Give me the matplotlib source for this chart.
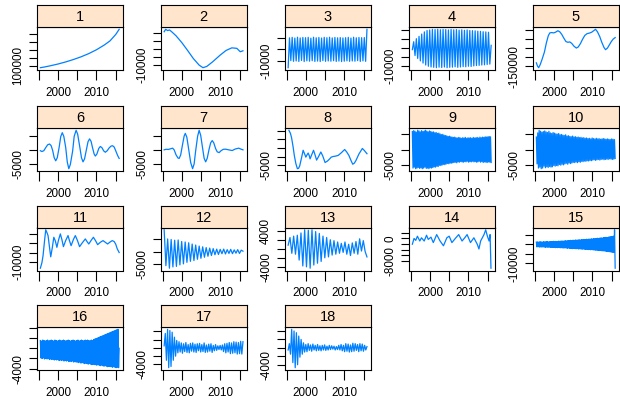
import numpy as np
import matplotlib.pyplot as plt

plt.rcParams['font.family'] = ['Liberation Sans', 'DejaVu Sans']

# monthly components share one time span
t_start, t_end = 1995.4, 2015.9

# --- smooth components: (year, value) readings ---
yr1 = [1995.4, 1996.5, 1998, 2000, 2002, 2004, 2006, 2008, 2010, 2012, 2013.5, 2015, 2015.9]
s1 = [76000, 85000, 100000, 122000, 148000, 178000, 212000, 252000, 300000, 358000, 410000, 490000, 555000]

yr2 = [1995.4, 1995.8, 1996.3, 1996.8, 1997.5, 1998.5, 2000, 2001.5, 2003, 2004.5, 2005.5,
       2006.5, 2008, 2010, 2011.5, 2013, 2014.3, 2015.2, 2015.9]
s2 = [10500, 12000, 11200, 11600, 10200, 8000, 3800, -1000, -6000, -10000, -11600,
      -10800, -8000, -3800, -1000, 600, 300, -1800, -1200]

yr5 = [1995.4, 1995.7, 1996.0, 1996.4, 1996.9, 1997.5, 1998.0, 1998.5, 1998.9, 1999.4, 1999.9,
       2000.4, 2001.0, 2001.5, 2002.0, 2002.6, 2003.1, 2003.6, 2004.1, 2004.6, 2005.2, 2005.8,
       2006.3, 2006.9, 2007.4, 2008.0, 2008.6, 2009.2, 2009.8, 2010.3, 2010.8, 2011.3, 2011.9,
       2012.4, 2013.0, 2013.4, 2013.9, 2014.4, 2014.9, 2015.4, 2015.9]
s5 = [-130000, -148000, -157000, -140000, -110000, -70000, -20000, 20000, 36000, 38000, 36000,
      40000, 48000, 42000, 28000, 5000, -12000, -16000, -14000, -22000, -38000, -48000,
      -42000, -22000, 0, 22000, 32000, 35000, 40000, 48000, 56000, 42000, 15000,
      -15000, -45000, -57000, -48000, -30000, -12000, 2000, 10000]

yr6 = [1995.4, 1995.8, 1996.3, 1996.8, 1997.3, 1997.8, 1998.2, 1998.6, 1999.0, 1999.4, 1999.8,
       2000.3, 2000.7, 2001.1, 2001.5, 2002.0, 2002.4, 2002.8, 2003.2, 2003.8, 2004.2, 2004.7,
       2005.1, 2005.6, 2006.1, 2006.5, 2006.9, 2007.4, 2007.8, 2008.2, 2008.6, 2009.0, 2009.4,
       2009.7, 2010.1, 2010.6, 2011.0, 2011.4, 2011.9, 2012.3, 2012.8, 2013.3, 2013.8, 2014.2,
       2014.6, 2015.0, 2015.5, 2015.9]
s6 = [-300, -600, -300, 800, 1800, 2070, 1500, -200, -2800, -3900, -2800,
      1000, 4700, 6100, 4800, 800, -4300, -6700, -5200, -400, 4800, 6950,
      5600, 1500, -2800, -4270, -3200, 200, 2900, 3900, 3000, 600, -1500,
      -2200, -1500, 500, 1200, 800, -400, -850, -300, 700, 1350, 1460,
      1000, -300, -2000, -3050]

yr7 = [1995.4, 1995.9, 1996.5, 1997.0, 1997.6, 1998.0, 1998.5, 1999.0, 1999.3, 1999.7, 2000.2,
       2000.6, 2000.9, 2001.3, 2001.8, 2002.3, 2002.8, 2003.2, 2003.6, 2004.1, 2004.5, 2004.9,
       2005.4, 2005.8, 2006.2, 2006.6, 2007.1, 2007.5, 2007.9, 2008.3, 2008.8, 2009.2, 2009.7,
       2010.2, 2010.8, 2011.4, 2012.2, 2013.1, 2013.9, 2014.8, 2015.3, 2015.9]
s7 = [0, 200, 150, 350, 600, 0, -1800, -2900, -3050, -1800, 2000,
      4900, 5850, 4500, 0, -4500, -6700, -5000, -300, 4800, 6950, 5200,
      600, -3000, -4270, -3000, 300, 2500, 3300, 2500, 400, -700, -980,
      -300, 200, 240, 0, -240, 300, 600, 300, 0]

yr8 = [1995.6, 1996.0, 1996.3, 1996.7, 1997.0, 1997.4, 1997.8, 1998.1, 1998.4, 1998.9, 1999.3,
       1999.7, 2000.0, 2000.3, 2000.6, 2000.9, 2001.1, 2001.6, 2002.0, 2002.4, 2002.8, 2003.3,
       2003.9, 2004.4, 2005.0, 2005.6, 2006.2, 2006.6, 2007.1, 2007.7, 2008.4, 2009.2, 2010.1,
       2010.6, 2011.2, 2011.7, 2012.2, 2012.6, 2013.0, 2013.8, 2014.7, 2015.2, 2015.9]
s8 = [15300, 13500, 10850, 5500, 700, -4000, -7000, -6800, -5400, -500, 3700,
      1500, -300, 1000, 2100, 500, -1300, 1500, 3700, 1000, -2000, 0,
      2700, 400, -3400, -2600, -1300, -300, 80, 300, 700, 2200, 4150,
      2800, 700, -2000, -4400, -3800, -2400, 1500, 4750, 3600, 1700]

yr11 = [1995.4, 1995.8, 1996.1, 1996.5, 1996.8, 1997.1, 1997.4, 1997.8, 1998.1, 1998.5, 1998.9,
        1999.3, 1999.7, 2000.1, 2000.6, 2001.0, 2001.4, 2002.0, 2002.6, 2003.0, 2003.4, 2004.0,
        2004.5, 2005.1, 2005.6, 2006.3, 2007.1, 2007.6, 2008.0, 2008.6, 2009.2, 2009.8, 2010.3,
        2011.0, 2011.7, 2012.3, 2012.9, 2013.5, 2014.1, 2014.6, 2015.0, 2015.4, 2015.9]
s11 = [-13400, -10500, -6700, 1500, 7200, 5800, 4100, -2500, -7300, -2500, 3200,
       1200, -2200, 1500, 5000, 2000, -1850, 1500, 4100, 1200, -1300, 2000,
       4100, 1200, -1850, 200, 2300, 700, -400, 1500, 3200, 1200, -760,
       500, 1400, 500, -400, 600, 1400, 900, -500, -3000, -5000]

yr14 = [1995.40, 1995.84, 1996.28, 1996.72, 1997.33, 1997.77, 1998.48, 1999.09, 1999.53, 2000.24,
        2000.85, 2001.73, 2002.61, 2003.49, 2004.37, 2004.98, 2005.69, 2006.57, 2007.45, 2008.33,
        2009.03, 2009.64, 2010.52, 2011.40, 2012.28, 2012.72, 2013.16, 2014.04, 2014.48, 2014.92,
        2015.36, 2015.62, 2015.85]
s14 = [-2070, 0, -690, 805, -920, 230, -920, 1150, -345, 460,
       -1490, 1380, -920, -2640, 230, 805, -1490, 0, 1380, -920,
       230, 1380, -1490, 230, -2070, -3790, -920, 1380, 3100, 805,
       -920, 1380, -10690]

# --- oscillating components, evenly spaced over the span ---
s3 = [-15500, 9800, -9500, 10200, -10100, 9600, -9800, 10300, -10200, 9700,
      -9400, 10100, -10300, 9900, -9700, 10200, -10000, 9500, -9600, 10300,
      -10200, 9800, -9900, 10100, -10300, 9600, -9500, 10200, -10100, 9900,
      -9800, 10300, -10000, 9700, -9600, 10100, -10200, 9800, -9900, 10000,
      -10300, 9700, -10000, 9900, -9700, 10200, -10100, 9600, -9800, 10300,
      -10000, 9800, -9500, 10100, -10200, 9900, -9700, 10000, -10100, 17000]

s4 = [-900, 3500, -4200, 5200, -5800, 6500, -7200, 7800, -8400, 9000,
      -9500, 9800, -10200, 10100, -10600, 10400, -10800, 10300, -11000, 10450,
      -10700, 10200, -10900, 10400, -10600, 10300, -11000, 10100, -10800, 10400,
      -10700, 10200, -10500, 10300, -10800, 10000, -10600, 10200, -10400, 9900,
      -10500, 10100, -10200, 9800, -10300, 9700, -10000, 9600, -9800, 9400,
      -9700, 9300, -9500, 9100, -9400, 9000, -9200, 8800, -9000, 1500]

# in hundreds
s9 = [58, -60, 61, -57, 59, -62, 56, -60, 62, -58, 60, -61, 57, -59, 61, -62, 58, -60, 60, -57,
      62, -61, 59, -60, 57, -62, 60,
      -59, 58, -60, 56, -58, 57, -56, 54, -57, 55, -54, 52, -55, 53, -51, 50, -52, 48, -50, 49,
      -48, 46, -49, 45, -47, 44, -45, 42, -46, 43, -44, 41, -44, 40, -43,
      39, -42, 40, -41, 38, -43, 37, -40, 39, -41, 38, -39, 36, -40, 38, -41, 37, -39, 39, -40,
      36, -38, 38, -41, 37, -39, 38, -40, 36, -38, 39, -40, 37, -39, 38, -41, 39, -40, 37, -38,
      40, -41, 38, -39, 40, -42, 39, -40, 41, -41, 40, -42, 41, -40, 42, -41, 41, -42]

s10 = [39, -45, 52, -58, 60, -55, 57, -60, 54, -58, 56, -52, 58, -57, 55, -54, 53, -56, 57, -53,
       52, -55, 50, -54, 53, -50, 51, -52, 49, -50, 48, -51, 50, -47, 46, -49, 47, -46, 45, -48,
       44, -45, 46, -43, 42, -46, 43, -42, 41, -44, 40, -42, 42, -40, 39, -41, 40, -39, 38, -41,
       39, -38, 37, -40, 38, -37, 36, -38, 37, -36, 35, -37, 36, -35, 34, -36, 35, -34, 33, -35,
       36, -33, 34, -32, 33, -34, 35, -32, 33, -31, 34, -33, 32, -31, 33, -30, 34, -32, 33, -31,
       32, -30, 33, -31, 32, -29, 31, -30, 33, -31, 32, -30, 31, -28]

# in thousands
s12 = [8.6, -5.5, 5.0, -6.5, 4.8, -6.0, 4.5, -5.8, 4.6, -5.2, 4.0, -4.8, 3.8, -4.2, 3.5, -3.8,
       3.0, -3.5, 2.6, -3.0, 2.2, -2.6, 1.9, -2.2, 1.6, -1.8, 1.4, -1.5, 1.2, -1.2, 1.0, -1.1,
       0.9, -0.8, 1.0, -0.9, 0.8, -0.7, 0.9, -0.8, 0.7, -0.6, 0.8, -0.7, 0.6, 0.2]

s13 = [0.8, 2.5, -1.0, 2.8, -1.2, 3.0, -2.5, 3.5, -3.8, 4.2, -4.0, 4.1, -4.3, 4.2, -3.6, 3.8,
       -3.2, 3.4, -2.8, 2.8, -2.0, 2.5, -1.8, 2.0, -1.4, 1.8, -1.2, 1.5, -1.0, 1.2, -0.8, 1.5,
       -1.2, 1.0, -1.5, 1.3, -1.0, 1.6, -1.2, 2.2, -0.5, 1.8, -0.6, -1.8]

# in hundreds
s15 = [11, -14, 12, -13, 11, -15, 13, -14, 12, -15, 11, -14, 13, -15, 12, -16, 13, -15, 14, -16,
       12, -15, 13, -17, 14, -16, 13, -17, 15, -16, 14, -18, 15, -17, 14, -18, 16, -17, 15, -19,
       16, -18, 17, -19, 16, -20, 17, -19,
       18, -20, 17, -21, 19, -20, 18, -22, 20, -21, 19, -23, 21, -22, 20, -23, 22, -24, 21, -23,
       22, -25, 23, -24, 22, -25, 24, -26, 23, -25, 25, -26,
       24, -27, 26, -26, 25, -28, 27, -27, 26, -29, 28, -28, 27, -30, 29, -30, 28, -31, 30, -31,
       31, -32, 30, -33, 32, -33, 33, -34, 32, -35, 34, -35, 35, -36, 36, -37, 35, -38, 37, -39,
       38, -40, 39, -41, 40, -42, 42, -43, 75, -125]

s16 = [15, -19, 14, -20, 16, -19, 15, -21, 14, -20, 15, -21, 16, -20, 14, -22, 15, -21, 16, -22,
       15, -21, 14, -23, 16, -22, 15, -23, 14, -22, 15, -24, 16, -23, 14, -24, 15, -23, 16, -25,
       15, -24, 14, -25, 15, -24, 16, -26, 15, -25, 14, -26, 15, -25, 16, -27, 15, -26, 14, -27,
       15, -27, 16, -28, 14, -27, 15, -29, 16, -28, 15, -29, 14, -30, 16, -29, 15, -30, 16, -31,
       15, -30, 14, -31, 16, -32, 15, -31, 17, -32,
       18, -32, 19, -33, 20, -32, 21, -33, 22, -34, 23, -33, 24, -34, 25, -35, 26, -34, 27, -35,
       28, -36, 29, -35, 30, -36, 31, -36, 32, -37, 33, -36, 34, -37, 35, -38, 36, -37, 37, -38, 0]

# in thousands
s17 = [0.5, 3.5, -3.0, 4.5, -4.8, 4.2, -4.5, 3.8, -3.0, 2.6, -2.0, 1.8, -1.2, 1.5, -1.0, 1.2,
       -1.3, 1.0, -0.9, 1.3, -1.1, 0.8, -1.2, 1.1, -0.8, 1.2, -1.0, 0.9, -1.1, 1.0, -0.7, 1.1,
       -1.0, 0.8, -0.9, 1.2, -1.1, 0.7, -1.0, 0.9, -0.8, 1.0, -1.1, 0.6, -0.7, 0.8, -0.6, 0.5,
       -0.4, 0.6, -0.5, 0.7, -0.9, 1.0, -1.2, 1.1, -1.0, 1.3, -1.4, 1.2, -1.3, 1.5, -1.2, 1.4,
       -1.5, 1.3, -1.4, 1.6, -1.5, 1.5]

s18 = [-0.5, 1.0, -1.5, 4.4, -3.5, 4.0, -4.7, 3.6, -4.0, 2.8, -2.2, 2.0, -1.5, 1.2, -1.0, 0.8,
       -0.9, 1.0, -0.6, 0.7, -0.8, 0.9, -0.5, 0.6, -0.7, 0.8, -0.6, 0.5, -0.7, 0.6, -0.5, 0.7,
       -0.6, 0.4, -0.5, 0.6, -0.4, 0.5, -0.3, 0.4, -0.5, 0.3, -0.4, 0.6, -0.5, 0.8, -0.7, 0.6,
       -0.9, 1.0, -0.8, 0.9, -1.0, 0.7, -0.9, 1.1, -0.8, 1.0, -0.6, 0.8, -0.9, 1.0, -0.7, 0.9,
       -0.8, 0.6, -0.5, 0.3]


def even(vals, scale=1):
    v = np.asarray(vals, dtype=float) * scale
    return np.linspace(t_start, t_end, len(v)), v


def paired(years, vals):
    return np.asarray(years, dtype=float), np.asarray(vals, dtype=float)


series = [
    paired(yr1, s1), paired(yr2, s2), even(s3), even(s4),
    paired(yr5, s5), paired(yr6, s6), paired(yr7, s7),
    paired(yr8, s8), even(s9, 100), even(s10, 100),
    paired(yr11, s11), even(s12, 1000), even(s13, 1000),
    paired(yr14, s14), even(s15, 100), even(s16, 100),
    even(s17, 1000), even(s18, 1000),
]

# y ticks and which of them carry a label
yticks = [
    ([100000, 200000, 300000, 400000, 500000], {100000}),
    ([-10000, -5000, 0, 5000, 10000], {-10000}),
    ([-10000, 0, 10000], {-10000}),
    ([-10000, -5000, 0, 5000, 10000], {-10000}),
    ([-150000, -100000, -50000, 0, 50000], {-150000}),
    ([-5000, 0, 5000], {-5000}),
    ([-5000, 0, 5000], {-5000}),
    ([-5000, 0, 5000, 10000, 15000], {-5000}),
    ([-5000, 0, 5000], {-5000}),
    ([-5000, 0, 5000], {-5000}),
    ([-10000, -5000, 0, 5000], {-10000}),
    ([-5000, 0, 5000], {-5000}),
    ([-4000, -2000, 0, 2000, 4000], {-4000, 4000}),
    ([-8000, -6000, -4000, -2000, 0, 2000], {-8000, 0}),
    ([-10000, -5000, 0, 5000], {-10000}),
    ([-4000, -2000, 0, 2000, 4000], {-4000}),
    ([-4000, -2000, 0, 2000, 4000], {-4000}),
    ([-4000, -2000, 0, 2000, 4000], {-4000}),
]

xticks = [1995, 2000, 2005, 2010, 2015]
xlabels = ['', '2000', '', '2010', '']

W, H = 620, 403
col_left = [36.7, 160.5, 284.5, 408.7, 532.7]
row_top = [5, 106, 205.5, 305]
pw, sh, ph = 86.5, 22, 43

fig = plt.figure(figsize=(W / 100, H / 100), dpi=100)

for i, (x, y) in enumerate(series):
    r, c = divmod(i, 5)
    left, top = col_left[c], row_top[r]
    ax = fig.add_axes([left / W, 1 - (top + sh + ph) / H, pw / W, ph / H])
    ax.plot(x, y, color='#0080ff', lw=0.9)
    ax.set_xlim(1994.45, 2016.95)
    pad = 0.06 * (y.max() - y.min())
    ax.set_ylim(y.min() - pad, y.max() + pad)

    ticks, shown = yticks[i]
    ax.set_yticks(ticks)
    ax.set_yticklabels([str(t) if t in shown else '' for t in ticks],
                       rotation=90, va='center', fontsize=8.4)
    ax.set_xticks(xticks)
    ax.set_xticklabels(xlabels, fontsize=8.4)
    ax.tick_params(axis='y', length=5.5, width=0.8, pad=3.5)
    ax.tick_params(axis='x', length=7, width=0.8, pad=5)
    for sp in ax.spines.values():
        sp.set_linewidth(0.8)

    strip = fig.add_axes([left / W, 1 - (top + sh) / H, pw / W, sh / H])
    strip.set_facecolor('#ffe5cc')
    strip.set_xticks([])
    strip.set_yticks([])
    for sp in strip.spines.values():
        sp.set_linewidth(0.8)
    strip.text(0.5, 0.45, str(i + 1), ha='center', va='center', fontsize=10.5,
               transform=strip.transAxes)

fig.savefig('out.png', dpi=100)
